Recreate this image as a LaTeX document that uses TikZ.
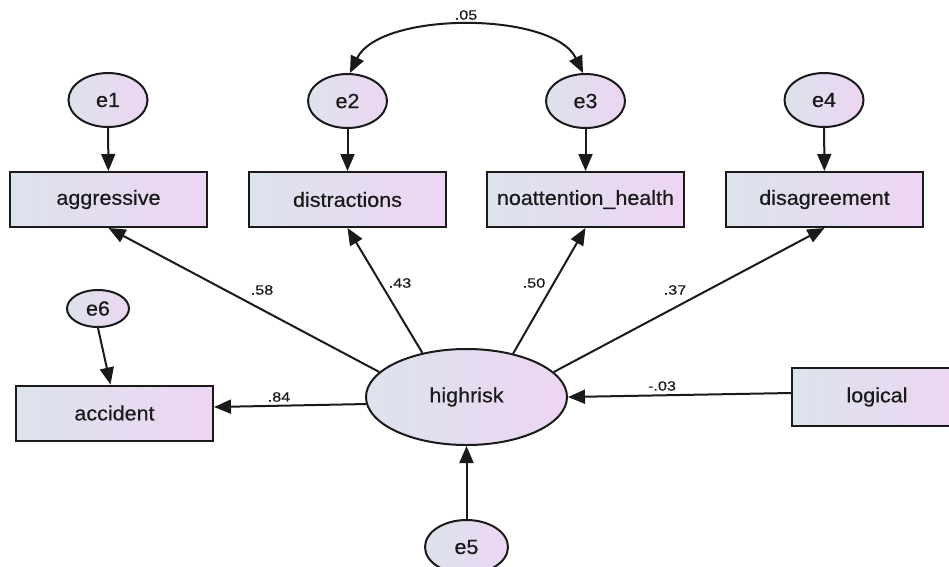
\documentclass[tikz,border=0pt]{standalone}
\usepackage{fontspec}
\setmainfont{Liberation Sans}[FakeStretch=1.05,FakeBold=0.5]
\newfontfamily\coeffont{Liberation Sans}[FakeStretch=1.2,FakeBold=0.4]
\usetikzlibrary{shapes.geometric,arrows.meta}

\definecolor{fillA}{HTML}{DCE3EC}
\definecolor{fillB}{HTML}{EDD5F3}
\definecolor{inkc}{HTML}{1A1A1A}

\begin{document}
\begin{tikzpicture}[x=1pt,y=-1pt,
  obs/.style={draw=inkc, line width=2pt, left color=fillA, right color=fillB,
    minimum width=197pt, minimum height=55pt, inner sep=0pt,
    font=\fontsize{20.5}{24}\selectfont, text=inkc},
  lat/.style={ellipse, draw=inkc, line width=2pt, left color=fillA, right color=fillB,
    inner sep=0pt, font=\fontsize{20.5}{24}\selectfont, text=inkc},
  regpath/.style={line width=2pt, draw=inkc, -{Triangle[length=17pt,width=14pt]}},
  covpath/.style={line width=2pt, draw=inkc,
    {Triangle[length=17pt,width=14pt]}-{Triangle[length=17pt,width=14pt]}},
  coef/.style={font=\coeffont\fontsize{13.5}{16}\selectfont, text=inkc, inner sep=0pt}
]
\useasboundingbox (0,0) rectangle (949,566);
\clip (0,0) rectangle (949,566);
\fill[white] (0,0) rectangle (949,566);

% error terms of the indicators
\node[lat, minimum width=79pt, minimum height=54pt] (e1) at (108,100) {e1};
\node[lat, minimum width=79pt, minimum height=54pt] (e2) at (347.5,101) {e2};
\node[lat, minimum width=79pt, minimum height=54pt] (e3) at (585.5,101) {e3};
\node[lat, minimum width=79pt, minimum height=54pt] (e4) at (824,100) {e4};

% observed indicators
\node[obs] (agg) at (108.5,199.5) {aggressive};
\node[obs] (dis) at (347.5,199.5) {distractions};
\node[obs] (noa) at (585.5,199.5) {noattention\_health};
\node[obs] (dsg) at (824.5,199.5) {disagreement};

% outcome and its error
\node[lat, minimum width=62pt, minimum height=37pt] (e6) at (98,308.5) {e6};
\node[obs] (acc) at (114.5,413) {accident};

% latent factor, predictor and disturbance
\node[lat, minimum width=201pt, minimum height=96pt] (hr) at (466.5,397) {highrisk};
\node[obs, minimum width=170pt, minimum height=58pt] (log) at (877,397) {logical};
\node[lat, minimum width=83pt, minimum height=54pt] (e5) at (466.5,547) {e5};

% error paths
\draw[regpath] (e1) -- (agg);
\draw[regpath] (e2) -- (dis);
\draw[regpath] (e3) -- (noa);
\draw[regpath] (e4) -- (dsg);
\draw[regpath] (e6.south) -- ([xshift=-4pt]acc.north);
\draw[regpath] (e5) -- (hr);

% structural paths
\draw[regpath] (hr.164) -- (agg.south);
\draw[regpath] (hr.135) -- (dis.south);
\draw[regpath] (hr.43) -- (noa.south);
\draw[regpath] (hr.16) -- (dsg.south);
\draw[regpath] (hr.184) -- ([yshift=6pt]acc.east);
\draw[regpath] ([yshift=4pt]log.west) -- (hr.east);

% error covariance
\draw[covpath] (e2.85) .. controls +(30,-62) and +(-30,-62) .. (e3.95);

% estimates
\node[coef] (c05) at (466,15) {.05};
\node[coef] (c58) at (262,290) {.58};
\node[coef] (c43) at (400,283) {.43};
\node[coef] (c50) at (534,283) {.50};
\node[coef] (c37) at (675,290) {.37};
\node[coef] (c84) at (279,397) {.84};
\node[coef] (c03) at (662,386) {-.03};
\end{tikzpicture}
\end{document}
